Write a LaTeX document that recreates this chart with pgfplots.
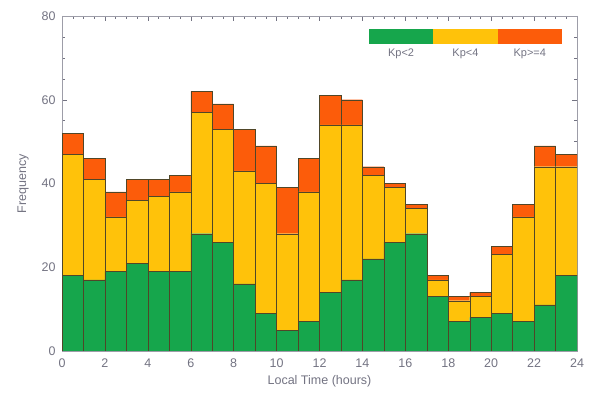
\documentclass[border=0pt]{standalone}
\usepackage{pgfplots}
\usepackage{pgfplotstable}
\pgfplotsset{compat=1.18}
\usepackage{fontspec}
\setmainfont{Liberation Sans}
\definecolor{cgreen}{RGB}{22,166,76}
\definecolor{cyellow}{RGB}{255,194,10}
\definecolor{corange}{RGB}{252,92,10}
\definecolor{ctext}{RGB}{115,115,130}
\definecolor{cedge}{RGB}{80,70,40}
\pgfplotstableread{
x g y o
0.5 18 29 5
1.5 17 24 5
2.5 19 13 6
3.5 21 15 5
4.5 19 18 4
5.5 19 19 4
6.5 28 29 5
7.5 26 27 6
8.5 16 27 10
9.5 9 31 9
10.5 5 23 11
11.5 7 31 8
12.5 14 40 7
13.5 17 37 6
14.5 22 20 2
15.5 26 13 1
16.5 28 6 1
17.5 13 4 1
18.5 7 5 1
19.5 8 5 1
20.5 9 14 2
21.5 7 25 3
22.5 11 33 5
23.5 18 26 3
}\datatable
\begin{document}
\begin{tikzpicture}
\begin{axis}[
  name=ax,
  scale only axis,
  width=515pt, height=335pt,
  xmin=0, xmax=24, ymin=0, ymax=80,
  ybar stacked, bar width=1, bar shift=0pt,
  xtick={0,2,...,24}, minor x tick num=3,
  ytick={0,20,40,60,80}, minor y tick num=3,
  tick align=inside,
  major tick length=5pt, minor tick length=3pt,
  tick style={ctext, line width=0.4pt},
  axis line style={ctext!70, line width=0.5pt},
  font=\fontsize{12.5}{14}\selectfont,
  tick label style={ctext},
  xticklabel style={yshift=-4pt},
  yticklabel style={xshift=-3pt},
  /pgf/number format/assume math mode=true,
  xlabel={Local Time (hours)}, ylabel={Frequency},
  label style={ctext},
  xlabel style={yshift=-1pt},
  ylabel style={yshift=6pt},
  every axis plot/.append style={draw=cedge, line width=0.4pt},
]
\addplot[fill=cgreen] table[x=x,y=g]{\datatable};
\addplot[fill=cyellow] table[x=x,y=y]{\datatable};
\addplot[fill=corange] table[x=x,y=o]{\datatable};
\fill[cgreen] (axis cs:14.3,73.2) rectangle (axis cs:17.3,76.8);
\fill[cyellow] (axis cs:17.3,73.2) rectangle (axis cs:20.3,76.8);
\fill[corange] (axis cs:20.3,73.2) rectangle (axis cs:23.3,76.8);
\node[ctext, font=\fontsize{11}{13}\selectfont] at (axis cs:15.8,71.0) {Kp<2};
\node[ctext, font=\fontsize{11}{13}\selectfont] at (axis cs:18.8,71.0) {Kp<4};
\node[ctext, font=\fontsize{11}{13}\selectfont] at (axis cs:21.8,71.0) {Kp>=4};
\end{axis}
\path ([shift={(-62pt,-47pt)}]ax.south west) rectangle ([shift={(13pt,16pt)}]ax.north east);
\end{tikzpicture}
\end{document}
